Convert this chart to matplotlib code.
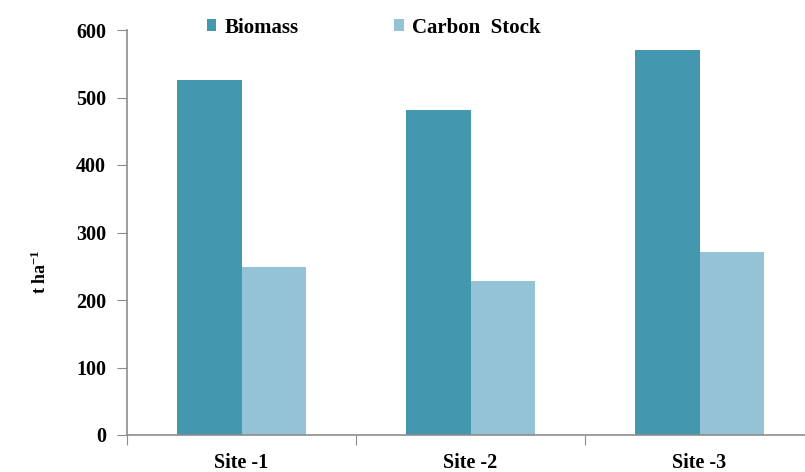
import matplotlib
matplotlib.use("Agg")
import matplotlib.pyplot as plt
import numpy as np

sites = ["Site -1", "Site -2", "Site -3"]
biomass = [526, 481, 570]
carbon_stock = [249, 228, 271]
series_names = ["Biomass", "Carbon  Stock"]
yticks = [0, 100, 200, 300, 400, 500, 600]

c_bio = "#4398AF"
c_carbon = "#93C3D5"
axis_grey = "#8C8C8C"

plt.rcParams["font.family"] = ["Liberation Serif", "DejaVu Serif"]
plt.rcParams["font.weight"] = "bold"
plt.rcParams["mathtext.fontset"] = "custom"
plt.rcParams["mathtext.rm"] = "Liberation Serif:bold"
plt.rcParams["mathtext.bf"] = "Liberation Serif:bold"
plt.rcParams["mathtext.it"] = "Liberation Serif:bold"

fig = plt.figure(figsize=(8.05, 4.72), dpi=100)
ax = fig.add_axes([127 / 805, 37 / 472, 687 / 805, 405 / 472])

x = np.arange(len(sites))
w = 0.28
ax.bar(x - w / 2, biomass, w, color=c_bio, label=series_names[0])
ax.bar(x + w / 2, carbon_stock, w, color=c_carbon, label=series_names[1])

ax.set_xlim(-0.5, 2.5)
ax.set_ylim(0, 600)
ax.set_yticks(yticks)
ax.set_yticklabels([str(v) for v in yticks], fontsize=14.5, fontweight="bold")

ax.set_xticks([-0.5, 0.5, 1.5, 2.5])
ax.set_xticklabels([])
ax.set_xticks(x, minor=True)
ax.set_xticklabels(sites, minor=True, fontsize=14.5, fontweight="bold")
ax.tick_params(axis="x", which="minor", length=0, pad=13)
ax.tick_params(axis="x", which="major", length=7, color=axis_grey, direction="out")
ax.tick_params(axis="y", length=7, color=axis_grey, direction="out", pad=8)

for s in ["top", "right"]:
    ax.spines[s].set_visible(False)
for s in ["left", "bottom"]:
    ax.spines[s].set_color(axis_grey)
    ax.spines[s].set_linewidth(1.2)

fig.text(40 / 805, 1 - 272 / 472, r"t ha$^{\mathrm{-1}}$", rotation=90,
         fontsize=13, fontweight="bold", ha="center", va="center")

fig.legend(loc="upper left", bbox_to_anchor=(188 / 805, 1 + 1 / 472),
           ncol=2, frameon=False, handlelength=0.45,
           handleheight=0.5, handletextpad=0.4, columnspacing=4.6,
           prop={"weight": "bold", "size": 15})

fig.savefig("out.png", dpi=100)
